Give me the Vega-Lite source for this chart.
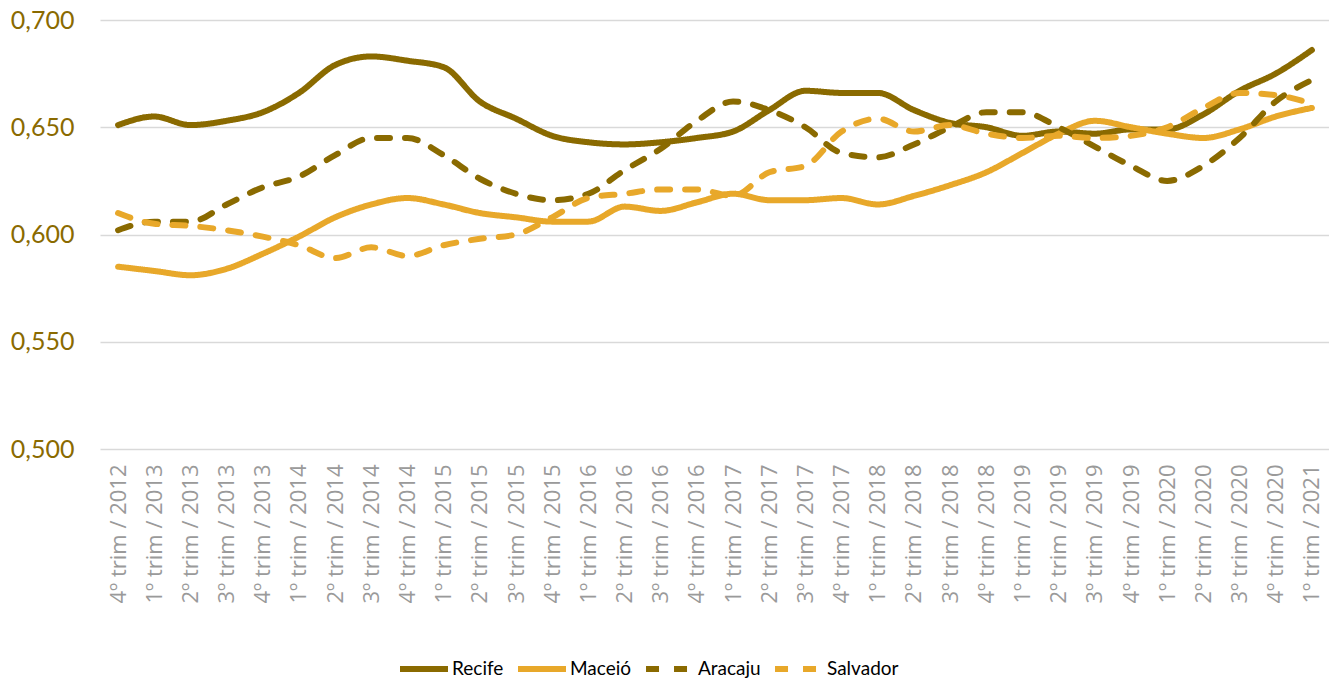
{
  "$schema": "https://vega.github.io/schema/vega-lite/v6.json",
  "autosize": {"type": "none"},
  "width": 1230,
  "height": 429,
  "padding": {"left": 100, "top": 20, "right": 0, "bottom": 234},
  "background": "white",
  "config": {"view": {"stroke": null}},
  "datasets": {
    "series": [
      {"t":"4º trim / 2012","city":"Recife","v":0.651},{"t":"1º trim / 2013","city":"Recife","v":0.655},{"t":"2º trim / 2013","city":"Recife","v":0.651},{"t":"3º trim / 2013","city":"Recife","v":0.653},{"t":"4º trim / 2013","city":"Recife","v":0.657},{"t":"1º trim / 2014","city":"Recife","v":0.666},{"t":"2º trim / 2014","city":"Recife","v":0.679},{"t":"3º trim / 2014","city":"Recife","v":0.683},{"t":"4º trim / 2014","city":"Recife","v":0.681},{"t":"1º trim / 2015","city":"Recife","v":0.678},{"t":"2º trim / 2015","city":"Recife","v":0.662},{"t":"3º trim / 2015","city":"Recife","v":0.654},{"t":"4º trim / 2015","city":"Recife","v":0.646},{"t":"1º trim / 2016","city":"Recife","v":0.643},{"t":"2º trim / 2016","city":"Recife","v":0.642},{"t":"3º trim / 2016","city":"Recife","v":0.643},{"t":"4º trim / 2016","city":"Recife","v":0.645},{"t":"1º trim / 2017","city":"Recife","v":0.648},{"t":"2º trim / 2017","city":"Recife","v":0.658},{"t":"3º trim / 2017","city":"Recife","v":0.667},{"t":"4º trim / 2017","city":"Recife","v":0.666},{"t":"1º trim / 2018","city":"Recife","v":0.666},{"t":"2º trim / 2018","city":"Recife","v":0.658},{"t":"3º trim / 2018","city":"Recife","v":0.652},{"t":"4º trim / 2018","city":"Recife","v":0.650},{"t":"1º trim / 2019","city":"Recife","v":0.646},{"t":"2º trim / 2019","city":"Recife","v":0.648},{"t":"3º trim / 2019","city":"Recife","v":0.647},{"t":"4º trim / 2019","city":"Recife","v":0.649},{"t":"1º trim / 2020","city":"Recife","v":0.649},{"t":"2º trim / 2020","city":"Recife","v":0.656},{"t":"3º trim / 2020","city":"Recife","v":0.667},{"t":"4º trim / 2020","city":"Recife","v":0.675},{"t":"1º trim / 2021","city":"Recife","v":0.686},
      {"t":"4º trim / 2012","city":"Maceió","v":0.585},{"t":"1º trim / 2013","city":"Maceió","v":0.583},{"t":"2º trim / 2013","city":"Maceió","v":0.581},{"t":"3º trim / 2013","city":"Maceió","v":0.584},{"t":"4º trim / 2013","city":"Maceió","v":0.591},{"t":"1º trim / 2014","city":"Maceió","v":0.599},{"t":"2º trim / 2014","city":"Maceió","v":0.608},{"t":"3º trim / 2014","city":"Maceió","v":0.614},{"t":"4º trim / 2014","city":"Maceió","v":0.617},{"t":"1º trim / 2015","city":"Maceió","v":0.614},{"t":"2º trim / 2015","city":"Maceió","v":0.610},{"t":"3º trim / 2015","city":"Maceió","v":0.608},{"t":"4º trim / 2015","city":"Maceió","v":0.606},{"t":"1º trim / 2016","city":"Maceió","v":0.606},{"t":"2º trim / 2016","city":"Maceió","v":0.613},{"t":"3º trim / 2016","city":"Maceió","v":0.611},{"t":"4º trim / 2016","city":"Maceió","v":0.615},{"t":"1º trim / 2017","city":"Maceió","v":0.619},{"t":"2º trim / 2017","city":"Maceió","v":0.616},{"t":"3º trim / 2017","city":"Maceió","v":0.616},{"t":"4º trim / 2017","city":"Maceió","v":0.617},{"t":"1º trim / 2018","city":"Maceió","v":0.614},{"t":"2º trim / 2018","city":"Maceió","v":0.618},{"t":"3º trim / 2018","city":"Maceió","v":0.623},{"t":"4º trim / 2018","city":"Maceió","v":0.629},{"t":"1º trim / 2019","city":"Maceió","v":0.638},{"t":"2º trim / 2019","city":"Maceió","v":0.647},{"t":"3º trim / 2019","city":"Maceió","v":0.653},{"t":"4º trim / 2019","city":"Maceió","v":0.650},{"t":"1º trim / 2020","city":"Maceió","v":0.647},{"t":"2º trim / 2020","city":"Maceió","v":0.645},{"t":"3º trim / 2020","city":"Maceió","v":0.649},{"t":"4º trim / 2020","city":"Maceió","v":0.655},{"t":"1º trim / 2021","city":"Maceió","v":0.659},
      {"t":"4º trim / 2012","city":"Aracaju","v":0.602},{"t":"1º trim / 2013","city":"Aracaju","v":0.606},{"t":"2º trim / 2013","city":"Aracaju","v":0.606},{"t":"3º trim / 2013","city":"Aracaju","v":0.614},{"t":"4º trim / 2013","city":"Aracaju","v":0.622},{"t":"1º trim / 2014","city":"Aracaju","v":0.627},{"t":"2º trim / 2014","city":"Aracaju","v":0.637},{"t":"3º trim / 2014","city":"Aracaju","v":0.645},{"t":"4º trim / 2014","city":"Aracaju","v":0.645},{"t":"1º trim / 2015","city":"Aracaju","v":0.637},{"t":"2º trim / 2015","city":"Aracaju","v":0.626},{"t":"3º trim / 2015","city":"Aracaju","v":0.619},{"t":"4º trim / 2015","city":"Aracaju","v":0.616},{"t":"1º trim / 2016","city":"Aracaju","v":0.619},{"t":"2º trim / 2016","city":"Aracaju","v":0.630},{"t":"3º trim / 2016","city":"Aracaju","v":0.640},{"t":"4º trim / 2016","city":"Aracaju","v":0.653},{"t":"1º trim / 2017","city":"Aracaju","v":0.662},{"t":"2º trim / 2017","city":"Aracaju","v":0.658},{"t":"3º trim / 2017","city":"Aracaju","v":0.650},{"t":"4º trim / 2017","city":"Aracaju","v":0.638},{"t":"1º trim / 2018","city":"Aracaju","v":0.636},{"t":"2º trim / 2018","city":"Aracaju","v":0.642},{"t":"3º trim / 2018","city":"Aracaju","v":0.650},{"t":"4º trim / 2018","city":"Aracaju","v":0.657},{"t":"1º trim / 2019","city":"Aracaju","v":0.657},{"t":"2º trim / 2019","city":"Aracaju","v":0.650},{"t":"3º trim / 2019","city":"Aracaju","v":0.641},{"t":"4º trim / 2019","city":"Aracaju","v":0.632},{"t":"1º trim / 2020","city":"Aracaju","v":0.625},{"t":"2º trim / 2020","city":"Aracaju","v":0.632},{"t":"3º trim / 2020","city":"Aracaju","v":0.645},{"t":"4º trim / 2020","city":"Aracaju","v":0.662},{"t":"1º trim / 2021","city":"Aracaju","v":0.672},
      {"t":"4º trim / 2012","city":"Salvador","v":0.610},{"t":"1º trim / 2013","city":"Salvador","v":0.605},{"t":"2º trim / 2013","city":"Salvador","v":0.604},{"t":"3º trim / 2013","city":"Salvador","v":0.602},{"t":"4º trim / 2013","city":"Salvador","v":0.599},{"t":"1º trim / 2014","city":"Salvador","v":0.595},{"t":"2º trim / 2014","city":"Salvador","v":0.589},{"t":"3º trim / 2014","city":"Salvador","v":0.594},{"t":"4º trim / 2014","city":"Salvador","v":0.590},{"t":"1º trim / 2015","city":"Salvador","v":0.595},{"t":"2º trim / 2015","city":"Salvador","v":0.598},{"t":"3º trim / 2015","city":"Salvador","v":0.600},{"t":"4º trim / 2015","city":"Salvador","v":0.608},{"t":"1º trim / 2016","city":"Salvador","v":0.617},{"t":"2º trim / 2016","city":"Salvador","v":0.619},{"t":"3º trim / 2016","city":"Salvador","v":0.621},{"t":"4º trim / 2016","city":"Salvador","v":0.621},{"t":"1º trim / 2017","city":"Salvador","v":0.618},{"t":"2º trim / 2017","city":"Salvador","v":0.629},{"t":"3º trim / 2017","city":"Salvador","v":0.632},{"t":"4º trim / 2017","city":"Salvador","v":0.648},{"t":"1º trim / 2018","city":"Salvador","v":0.654},{"t":"2º trim / 2018","city":"Salvador","v":0.648},{"t":"3º trim / 2018","city":"Salvador","v":0.651},{"t":"4º trim / 2018","city":"Salvador","v":0.647},{"t":"1º trim / 2019","city":"Salvador","v":0.645},{"t":"2º trim / 2019","city":"Salvador","v":0.646},{"t":"3º trim / 2019","city":"Salvador","v":0.645},{"t":"4º trim / 2019","city":"Salvador","v":0.646},{"t":"1º trim / 2020","city":"Salvador","v":0.650},{"t":"2º trim / 2020","city":"Salvador","v":0.659},{"t":"3º trim / 2020","city":"Salvador","v":0.666},{"t":"4º trim / 2020","city":"Salvador","v":0.665},{"t":"1º trim / 2021","city":"Salvador","v":0.661}
    ]
  },
  "data": {"name": "series"},
  "mark": {"type": "line", "strokeWidth": 6, "interpolate": "monotone", "strokeCap": "round", "strokeJoin": "round"},
  "encoding": {
    "x": {
      "field": "t", "type": "ordinal", "sort": null,
      "scale": {"type": "point", "padding": 0.5},
      "axis": {
        "title": null, "labelAngle": -90, "labelAlign": "right", "labelBaseline": "middle",
        "labelFont": "Open Sans", "labelFontSize": 22, "labelColor": "#9a9a9a",
        "labelPadding": 15, "ticks": false, "domain": false, "grid": false
      }
    },
    "y": {
      "field": "v", "type": "quantitative",
      "scale": {"domain": [0.5, 0.7], "zero": false, "nice": false},
      "axis": {
        "title": null, "values": [0.5, 0.55, 0.6, 0.65, 0.7],
        "labelExpr": "replace(format(datum.value, '.3f'), '.', ',')",
        "labelFont": "Lato", "labelFontSize": 25, "labelColor": "#8a6a00",
        "labelPadding": 26, "ticks": false, "domain": false,
        "grid": true, "gridColor": "#d9d9d9", "gridWidth": 1.5
      }
    },
    "color": {
      "field": "city", "type": "nominal",
      "scale": {"domain": ["Recife", "Maceió", "Aracaju", "Salvador"], "range": ["#8a6a00", "#e8a82a", "#8a6a00", "#e8a82a"]},
      "legend": {
        "title": null, "orient": "none", "legendX": 297, "legendY": 622, "direction": "horizontal",
        "symbolType": "stroke", "symbolStrokeWidth": 6, "symbolSize": 2300,
        "labelFont": "Lato", "labelFontSize": 19, "labelColor": "#000000",
        "columnPadding": 2, "symbolOffset": 0, "labelOffset": 1
      }
    },
    "strokeDash": {
      "field": "city", "type": "nominal",
      "scale": {"domain": ["Recife", "Maceió", "Aracaju", "Salvador"], "range": [[1, 0], [1, 0], [13, 15], [13, 15]]},
      "legend": null
    }
  }
}
